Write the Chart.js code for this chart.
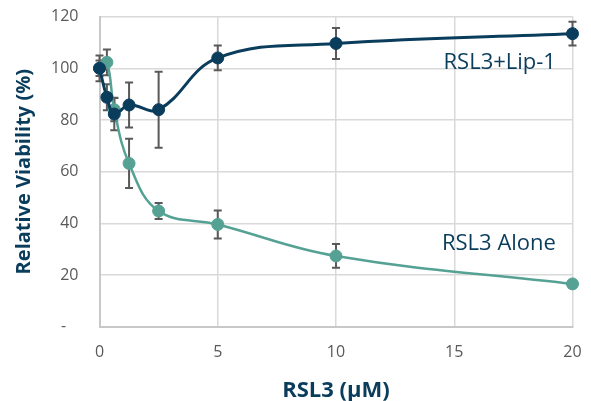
<!DOCTYPE html>
<html>
<head>
<meta charset="utf-8">
<script src="https://cdn.jsdelivr.net/npm/chart.js@4.4.1/dist/chart.umd.min.js"></script>
<style>
  html, body { margin: 0; padding: 0; background: #fff; }
  #wrap { width: 591px; height: 401px; }
</style>
</head>
<body>
<div id="wrap"><canvas id="chart"></canvas></div>
<script>
// ── Data ───────────────────────────────────────────────────────────
const doses = [0, 0.3125, 0.625, 1.25, 2.5, 5, 10, 20];   // RSL3 (µM)
const lipValues = [100, 88.8, 82.3, 85.8, 84.0, 104.0, 109.6, 113.4];
const lipErrors = [5.0, 5.0, 6.3, 8.7, 14.7, 4.8, 6.0, 4.6];
const aloneValues = [100, 102.3, 84.0, 63.2, 44.8, 39.6, 27.4, 16.6];
const aloneErrors = [3.0, 5.0, 4.5, 9.5, 3.1, 5.4, 4.6, 0.8];
const yTicks = [0, 20, 40, 60, 80, 100, 120];
const xTicks = [0, 5, 10, 15, 20];

const NAVY = '#0a3c5c';
const TEAL = '#55a294';
const GREY = '#595959';
const FONT = "'Open Sans', sans-serif";

// series labels, anchored in data units (right edge, middle)
const seriesLabels = [
  { text: 'RSL3+Lip-1', x: 19.3, y: 102.3 },
  { text: 'RSL3 Alone', x: 19.3, y: 32.2 },
];

const toPoints = (xs, ys) => xs.map((x, i) => ({ x, y: ys[i] }));

// error bars behind the lines, series labels on top
const errorBars = {
  id: 'errorBars',
  beforeDatasetsDraw(chart) {
    const { ctx, scales: { x, y } } = chart;
    const sets = [[lipValues, lipErrors], [aloneValues, aloneErrors]];
    ctx.save();
    ctx.strokeStyle = GREY;
    ctx.lineWidth = 2;
    sets.forEach(([vals, errs]) => {
      doses.forEach((d, i) => {
        const px = x.getPixelForValue(d);
        const top = y.getPixelForValue(vals[i] + errs[i]);
        const bot = y.getPixelForValue(vals[i] - errs[i]);
        ctx.beginPath();
        ctx.moveTo(px, top); ctx.lineTo(px, bot);
        ctx.moveTo(px - 4, top); ctx.lineTo(px + 4, top);
        ctx.moveTo(px - 4, bot); ctx.lineTo(px + 4, bot);
        ctx.stroke();
      });
    });
    ctx.restore();
  },
  afterDatasetsDraw(chart) {
    const { ctx, scales: { x, y } } = chart;
    ctx.save();
    ctx.fillStyle = NAVY;
    ctx.font = `22px ${FONT}`;
    ctx.textAlign = 'right';
    ctx.textBaseline = 'middle';
    seriesLabels.forEach(l => ctx.fillText(l.text, x.getPixelForValue(l.x), y.getPixelForValue(l.y)));
    ctx.restore();
  },
};

new Chart(document.getElementById('chart'), {
  type: 'line',
  data: {
    datasets: [
      { label: 'RSL3+Lip-1', data: toPoints(doses, lipValues), borderColor: NAVY, backgroundColor: NAVY, borderWidth: 3, pointRadius: 6, pointBorderWidth: 1, tension: 0.4, fill: false, clip: false },
      { label: 'RSL3 Alone', data: toPoints(doses, aloneValues), borderColor: TEAL, backgroundColor: TEAL, borderWidth: 2.5, pointRadius: 6, pointBorderWidth: 1, tension: 0.4, fill: false, clip: false },
    ],
  },
  options: {
    responsive: true, maintainAspectRatio: false, animation: false,
    layout: { padding: { left: 0, right: 18.5, top: 16.6, bottom: 0 } },
    plugins: { legend: { display: false }, tooltip: { enabled: false } },
    scales: {
      x: {
        type: 'linear', min: 0, max: 20,
        afterFit: s => { s.height = 74.2; s.paddingLeft = 0; s.paddingRight = 0; },
        afterBuildTicks: s => { s.ticks = xTicks.map(v => ({ value: v })); },
        ticks: { color: GREY, font: { family: FONT, size: 16 }, padding: 16, maxRotation: 0 },
        grid: { color: '#d9d9d9', lineWidth: 1.5, drawTicks: false },
        border: { color: '#c8c8c8', width: 2 },
        title: { display: true, text: 'RSL3 (µM)', color: NAVY, font: { family: FONT, size: 22, weight: 'bold' }, padding: { top: 0, bottom: -3 } },
      },
      y: {
        min: 0, max: 120,
        afterFit: s => { s.width = 99.5; s.paddingTop = 0; s.paddingBottom = 0; },
        afterBuildTicks: s => { s.ticks = yTicks.map(v => ({ value: v })); },
        ticks: { color: GREY, font: { family: FONT, size: 16 }, padding: 21, callback: v => v === 0 ? '-   ' : v },
        grid: { color: '#d9d9d9', lineWidth: 1.5, drawTicks: false },
        border: { color: '#c8c8c8', width: 2 },
        title: { display: true, text: 'Relative Viability (%)', color: NAVY, font: { family: FONT, size: 20, weight: 'bold' }, padding: { top: 12, bottom: 0 } },
      },
    },
  },
  plugins: [errorBars],
});
</script>
</body>
</html>
